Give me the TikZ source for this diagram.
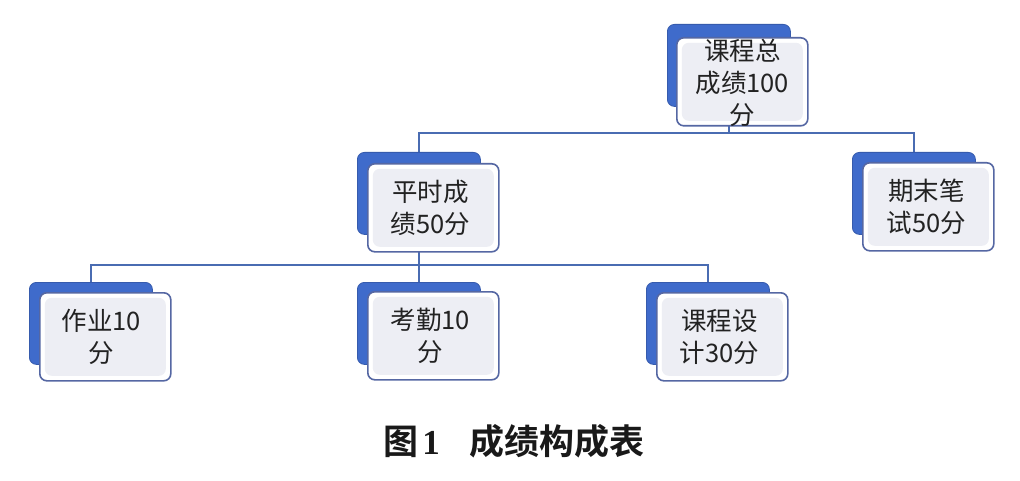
\documentclass[tikz,border=0pt]{standalone}
\usepackage{fontspec}
\newfontfamily\cjk{Noto Sans CJK SC}
\newfontfamily\cjkb{Noto Sans CJK SC Bold}
\newfontfamily\serifb{Liberation Serif Bold}
\usetikzlibrary{backgrounds}
\definecolor{backblue}{HTML}{3F6BCB}
\definecolor{frontline}{HTML}{5567A3}
\definecolor{innergray}{HTML}{EDEEF4}
\definecolor{connblue}{HTML}{4A6CB2}
\definecolor{txt}{HTML}{222222}
\tikzset{
  backbox/.style={fill=backblue, draw=backblue!85!black, line width=0.8pt, rounded corners=7pt,
    minimum width=123pt, minimum height=82pt, inner sep=0pt, anchor=north west},
  frontbox/.style={fill=white, draw=frontline, line width=1.6pt, rounded corners=7pt,
    minimum width=131pt, minimum height=88pt, inner sep=0pt, anchor=north west,
    path picture={\fill[innergray] ([shift={(5pt,-5pt)}]path picture bounding box.north west)
      rectangle ([shift={(-5pt,5pt)}]path picture bounding box.south east);}},
  lbl/.style={font=\cjk\fontsize{25.5}{32}\selectfont, text=txt, align=center},
  conn/.style={draw=connblue, line width=1.6pt},
}
\begin{document}
\begin{tikzpicture}[x=1pt,y=-1pt]
\useasboundingbox (0,0) rectangle (1020,481);
% back boxes
\node[backbox] (b0) at (667,24) {};
\node[backbox] (b1) at (357,152) {};
\node[backbox] (b2) at (852,152) {};
\node[backbox] (b3) at (29,282) {};
\node[backbox] (b4) at (357,282) {};
\node[backbox] (b5) at (646,282) {};
% front boxes
\node[frontbox] (f0) at (676,37) {};
\node[frontbox] (f1) at (367,163) {};
\node[frontbox] (f2) at (862,162) {};
\node[frontbox] (f3) at (39,292) {};
\node[frontbox] (f4) at (367,291) {};
\node[frontbox] (f5) at (656,292) {};
% labels
\node[lbl] (l0) at ([yshift=-1pt]f0.center) {课程总\\成绩100\\分};
\node[lbl] (l1) at ([xshift=-3pt]f1.center) {平时成\\绩50分};
\node[lbl] (l2) at ([xshift=-2pt]f2.center) {期末笔\\试50分};
\node[lbl] (l3) at ([xshift=-4pt]f3.center) {作业10\\分};
\node[lbl] (l4) at ([xshift=-3pt]f4.center) {考勤10\\分};
\node[lbl] (l5) at ([xshift=-3pt]f5.center) {课程设\\计30分};
% buses
\coordinate (bus1) at (0,133);
\coordinate (bus2) at (0,265);
\begin{pgfonlayer}{background}
\fill[white] (0,0) rectangle (1020,481);
\draw[conn] (b0.south) -- (b0.south |- bus1);
\draw[conn] (b1.north) |- (b2.north |- bus1) -- (b2.north);
\draw[conn] (b1.south) -- (b1.south |- bus2);
\draw[conn] (b3.north) |- (b5.north |- bus2) -- (b5.north);
\draw[conn] (b4.north) -- (b4.north |- bus2);
\end{pgfonlayer}
% caption
\node[text=black!90, font=\fontsize{35}{40}\selectfont, anchor=base] (cap) at (514,454)
  {{\cjkb 图}\hspace{4pt}{\serifb 1}\hspace{30pt}{\cjkb 成绩构成表}};
\end{tikzpicture}
\end{document}
